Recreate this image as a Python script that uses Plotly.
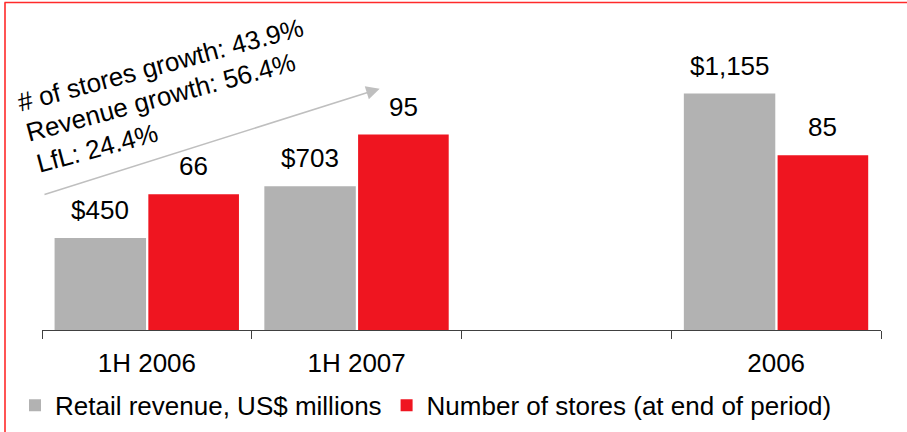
import math
import plotly.graph_objects as go

categories = ["1H 2006", "1H 2007", "2006"]
axis_categories = ["1H 2006", "1H 2007", " ", "2006"]
revenue = [450, 703, 1155]
stores = [66, 95, 85]
revenue_labels = ["$450", "$703", "$1,155"]
series_names = ["Retail revenue, US$ millions", "Number of stores (at end of period)"]
growth_lines = ["# of stores growth: 43.9%", "Revenue growth: 56.4%", "LfL: 24.4%"]

GRAY = "#b2b2b2"
RED = "#ef1520"
FONT = "Liberation Sans, Arial, sans-serif"
FS = 26

W, H = 907, 432
L, R, T, B = 42, 26, 40, 101.5
PW = W - L - R
PH = H - T - B


def px(x):
    return (x - L) / PW


def py(y):
    return (H - B - y) / PH


fig = go.Figure()
fig.add_trace(go.Bar(
    x=categories, y=revenue, name=series_names[0], yaxis="y",
    marker=dict(color=GRAY, line=dict(width=0)),
    width=0.436, offset=-0.44,
))
fig.add_trace(go.Bar(
    x=categories, y=stores, name=series_names[1], yaxis="y2",
    marker=dict(color=RED, line=dict(width=0)),
    width=0.432, offset=0.007,
))

annotations = []
for c, v, t in zip(categories, revenue, revenue_labels):
    annotations.append(dict(x=axis_categories.index(c), y=v, xref="x", yref="y", text=t,
                            showarrow=False, xshift=-46.5, yshift=28, yanchor="middle",
                            xanchor="center", font=dict(family=FONT, size=FS, color="black")))
for c, v in zip(categories, stores):
    annotations.append(dict(x=axis_categories.index(c), y=v, xref="x", yref="y2", text=str(v),
                            showarrow=False, xshift=46.5, yshift=28, yanchor="middle",
                            xanchor="center", font=dict(family=FONT, size=FS, color="black")))

# arrow
annotations.append(dict(x=px(379.7), y=py(88.8), xref="paper", yref="paper", text="",
                        showarrow=True, ax=43 - 379.7, ay=195 - 88.8, axref="pixel", ayref="pixel",
                        arrowhead=2, arrowsize=1.8, arrowwidth=1.5, arrowcolor="#bfbfbf",
                        standoff=0, startstandoff=0))

# rotated growth text, one annotation per line (left-aligned starts along a common slant)
ANG = 15
ux, uy = math.cos(math.radians(ANG)), -math.sin(math.radians(ANG))
nx, ny = math.sin(math.radians(ANG)), math.cos(math.radians(ANG))
line_starts = [(20, 112), (30, 142), (40, 173)]
line_widths = [295, 277, 124]
for txt, (sx, sy), w in zip(growth_lines, line_starts, line_widths):
    cx = sx + ux * w / 2 - nx * 9.3
    cy = sy + uy * w / 2 - ny * 9.3
    annotations.append(dict(x=px(cx), y=py(cy), xref="paper", yref="paper", text=txt,
                            showarrow=False, textangle=-ANG, xanchor="center", yanchor="middle",
                            font=dict(family=FONT, size=FS, color="black")))

shapes = [
    dict(type="line", xref="paper", yref="paper", x0=px(4.5), x1=px(912), y0=py(2.5), y1=py(2.5),
         line=dict(color="#ff2a2a", width=1.6)),
    dict(type="line", xref="paper", yref="paper", x0=px(5), x1=px(5), y0=py(2.5), y1=py(440),
         line=dict(color="#ff2a2a", width=1.6)),
]

fig.update_layout(
    width=W, height=H,
    margin=dict(l=L, r=R, t=T, b=B, pad=0, autoexpand=False),
    paper_bgcolor="white", plot_bgcolor="white",
    font=dict(family=FONT, size=FS, color="black"),
    barmode="group",
    showlegend=True,
    legend=dict(orientation="h", x=px(15), y=py(406), xanchor="left", yanchor="middle",
                font=dict(family=FONT, size=FS, color="black"), bgcolor="rgba(0,0,0,0)",
                traceorder="normal"),
    xaxis=dict(type="category", categoryorder="array", categoryarray=axis_categories,
               range=[-0.5, 3.5], showline=True, linecolor="#404040", linewidth=1,
               ticks="outside", tickson="boundaries", ticklen=8, tickcolor="#404040",
               tickwidth=1, showgrid=False, zeroline=False,
               tickfont=dict(family=FONT, size=FS, color="black"), ticklabelstandoff=10),
    yaxis=dict(range=[0, 1417], visible=False, showgrid=False, zeroline=False),
    yaxis2=dict(range=[0, 141], overlaying="y", visible=False, showgrid=False, zeroline=False),
    annotations=annotations,
    shapes=shapes,
)

fig.write_html("out.html", config={"displayModeBar": False},
               post_script="document.body.style.margin='0';document.body.style.overflow='hidden';")
